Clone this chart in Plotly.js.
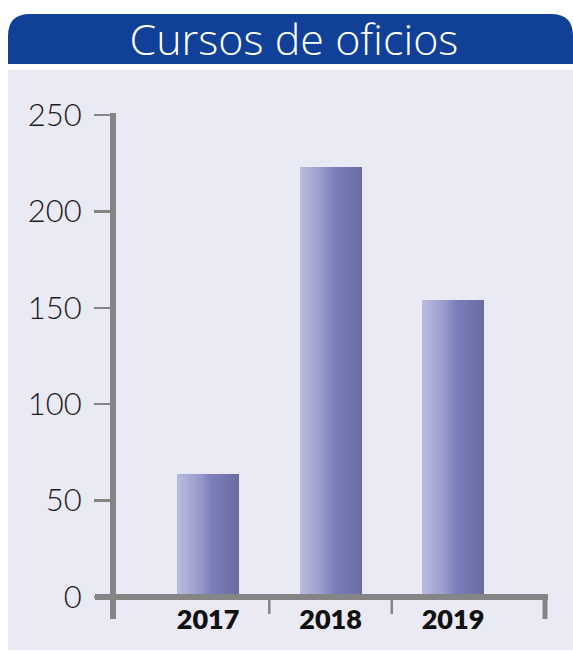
<!DOCTYPE html>
<html>
<head>
<meta charset="utf-8">
<script src="https://cdn.plot.ly/plotly-3.0.1.min.js"></script>
<style>html,body{margin:0;padding:0;background:#fff;}#chart{width:573px;height:653px;}</style>
</head>
<body>
<div id="chart"></div>
<script>
const categories = ['2017', '2018', '2019'];
const values = [64, 223, 154];
const yTickVals = [0, 50, 100, 150, 200, 250];
const yTickText = ['0', '50', '100', '150', '200', '250'];
const titleText = 'Cursos de oficios';

// gradient stops for bar fill (left -> right)
const gradStops = [[0, [185, 188, 224]], [0.35, [155, 156, 204]], [0.55, [123, 127, 189]], [1, [106, 108, 159]]];
function gradColor(t) {
  for (let i = 1; i < gradStops.length; i++) {
    if (t <= gradStops[i][0]) {
      const a = gradStops[i - 1], b = gradStops[i];
      const f = (t - a[0]) / (b[0] - a[0]);
      const c = a[1].map((v, k) => Math.round(v + (b[1][k] - v) * f));
      return 'rgb(' + c.join(',') + ')';
    }
  }
  return 'rgb(' + gradStops[gradStops.length - 1][1].join(',') + ')';
}

const W = 573, H = 653;
const L = 113, R = 545, T = 115, B = 597;
const px = x => (x - L) / (R - L);
const py = y => (B - y) / (B - T);

const barW = 0.506;
const nSlices = 24;
const traces = [];
for (let i = 0; i < nSlices; i++) {
  const sw = barW / nSlices;
  traces.push({
    type: 'bar',
    x: categories,
    y: values,
    width: categories.map(() => (i < nSlices - 1 ? sw * 1.15 : sw)),
    offset: categories.map(() => -barW / 2 + i * sw),
    marker: { color: gradColor((i + 0.5) / nSlices), line: { width: 0 } },
    hoverinfo: 'skip',
    showlegend: false
  });
}

const axisColor = '#858585';
const r = 22;
const headerPath = 'M ' + px(8) + ',' + py(64) +
  ' L ' + px(8) + ',' + py(14 + r) +
  ' Q ' + px(8) + ',' + py(14) + ' ' + px(8 + r) + ',' + py(14) +
  ' L ' + px(573 - r) + ',' + py(14) +
  ' Q ' + px(573) + ',' + py(14) + ' ' + px(573) + ',' + py(14 + r) +
  ' L ' + px(573) + ',' + py(64) + ' Z';

const shapes = [
  { type: 'rect', xref: 'paper', yref: 'paper', x0: px(8), x1: px(573), y0: py(650), y1: py(70),
    fillcolor: '#eaeaf5', line: { width: 0 }, layer: 'below' },
  { type: 'path', xref: 'paper', yref: 'paper', path: headerPath,
    fillcolor: '#114099', line: { width: 0 }, layer: 'below' },
  // y axis line
  { type: 'line', xref: 'paper', yref: 'paper', x0: 0, x1: 0, y0: py(113), y1: py(619),
    line: { color: axisColor, width: 6 } },
  // x axis line
  { type: 'line', xref: 'paper', yref: 'paper', x0: px(95), x1: px(548), y0: 0, y1: 0,
    line: { color: axisColor, width: 6 } },
  // right end tick
  { type: 'line', xref: 'paper', yref: 'paper', x0: px(545), x1: px(545), y0: 0, y1: py(619),
    line: { color: axisColor, width: 5 } },
  // category dividers
  { type: 'line', xref: 'x', yref: 'paper', x0: 0.5, x1: 0.5, y0: 0, y1: py(614),
    line: { color: axisColor, width: 2.5 } },
  { type: 'line', xref: 'x', yref: 'paper', x0: 1.5, x1: 1.5, y0: 0, y1: py(614),
    line: { color: axisColor, width: 2.5 } }
];

const layout = {
  width: W, height: H,
  margin: { l: L, r: W - R, t: T, b: H - B, pad: 0 },
  paper_bgcolor: '#ffffff',
  plot_bgcolor: 'rgba(0,0,0,0)',
  barmode: 'overlay',
  bargap: 0,
  showlegend: false,
  title: {
    text: titleText,
    x: 0.513, xanchor: 'center', xref: 'container',
    y: 1 - 40 / H, yanchor: 'middle', yref: 'container',
    font: { family: 'Open Sans', size: 43, weight: 300, color: '#ffffff' }
  },
  xaxis: {
    type: 'category',
    range: [-0.776, 2.751],
    tickvals: categories, ticktext: categories,
    ticks: '', showline: false, showgrid: false, zeroline: false,
    ticklabelstandoff: 4,
    tickfont: { family: 'Lato', size: 27, weight: 800, color: '#111111' },
    fixedrange: true
  },
  yaxis: {
    range: [0, 250],
    tickvals: yTickVals, ticktext: yTickText,
    ticks: 'outside', ticklen: 18, tickwidth: 2.5, tickcolor: axisColor,
    showline: false, showgrid: false, zeroline: false,
    ticklabelstandoff: 6,
    tickfont: { family: 'Lato', size: 31, weight: 300, color: '#1a1a1a' },
    fixedrange: true
  },
  shapes: shapes
};

Plotly.newPlot('chart', traces, layout, { displayModeBar: false, staticPlot: true });
</script>
</body>
</html>
